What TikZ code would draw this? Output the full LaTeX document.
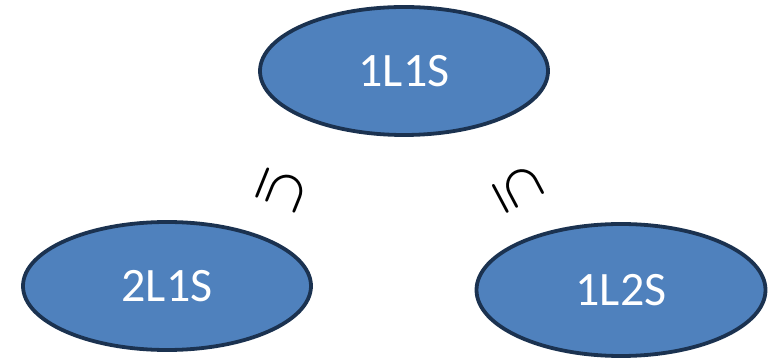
\documentclass[tikz,border=0pt]{standalone}
\usepackage{fontspec}
\setmainfont{Carlito}
\usetikzlibrary{shapes.geometric}
\definecolor{ellfill}{HTML}{4F81BD}
\definecolor{elldraw}{HTML}{1B3250}
\tikzset{
  setnode/.style={ellipse, draw=elldraw, line width=3.8pt, fill=ellfill, inner sep=0pt,
    text=white, font=\fontsize{48}{48}\selectfont},
  relsym/.style={inner sep=0pt}
}
\begin{document}
\begin{tikzpicture}[x=1pt,y=1pt]
\useasboundingbox (0,0) rectangle (773,361);
\node[setnode, minimum width=288pt, minimum height=128pt] (top) at (404,290) {1L1S};
\node[setnode, minimum width=288pt, minimum height=128pt] (left) at (167,75) {2L1S};
\node[setnode, minimum width=289pt, minimum height=132pt] (right) at (621,71) {1L2S};
\node[relsym, rotate=-112] (sl) at (282,171) {\scalebox{4.8}{\boldmath$\subseteq$}};
\node[relsym, rotate=-62] (sr) at (518,172) {\scalebox{4.8}{\boldmath$\subseteq$}};
\end{tikzpicture}
\end{document}
